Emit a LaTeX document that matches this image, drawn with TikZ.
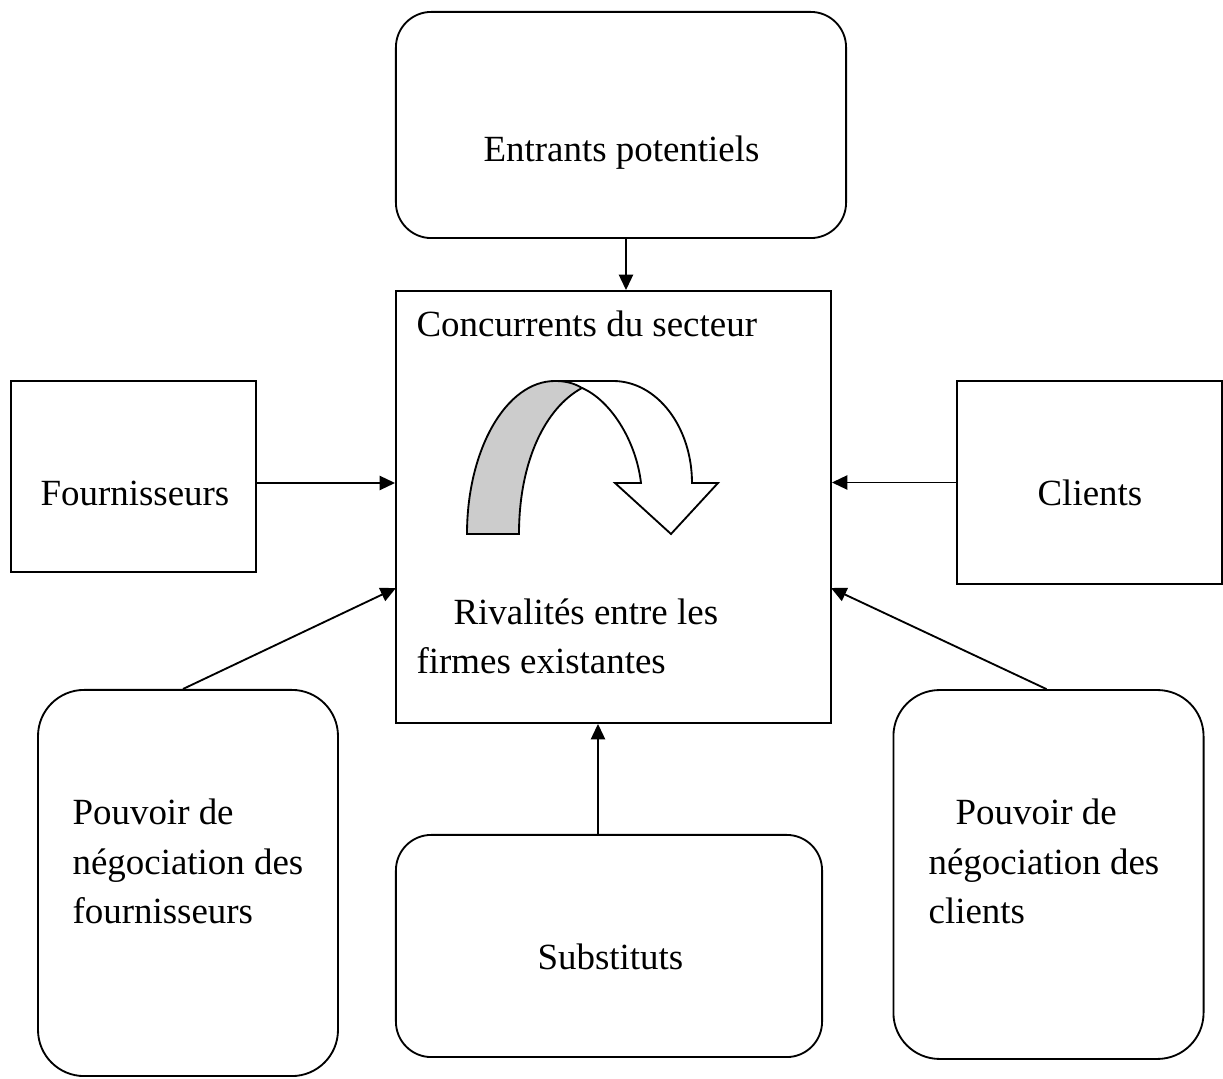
\documentclass[tikz,border=0pt]{standalone}
\usepackage{fontspec}
\setmainfont{Liberation Serif}
\usepackage{tikz}
\usepackage{xcolor}
\usetikzlibrary{shapes.geometric, positioning, arrows.meta, calc}

\tikzset{
  box/.style={draw, line width=0.6pt, inner sep=0pt},
  roundbox/.style={box, rounded corners=11.5pt},
  label/.style={inner sep=0pt, font=\fontsize{12}{16.1}\selectfont},
  force/.style={line width=0.6pt, -{Triangle[length=5pt,width=4.6pt]}}
}

\begin{document}
\begin{tikzpicture}[x=0.325pt, y=-0.325pt]
\useasboundingbox (0,0) rectangle (1223,1079);

% les cadres
\node[roundbox, minimum width=146.3pt, minimum height=73.5pt] (entrants) at (621,125) {};
\node[box, minimum width=141.4pt, minimum height=140.4pt] (concur) at (613.5,507) {};
\node[box, minimum width=79.6pt, minimum height=62.1pt] (fourn) at (133.5,476.5) {};
\node[box, minimum width=86.1pt, minimum height=66pt] (clients) at (1089.5,482.5) {};
\node[roundbox, rounded corners=15pt, minimum width=97.5pt, minimum height=125.5pt] (pfourn) at (188,883) {};
\node[roundbox, rounded corners=15pt, minimum width=100.8pt, minimum height=119.9pt] (pclients) at (1048.5,874.5) {};
\node[roundbox, minimum width=138.5pt, minimum height=72.2pt] (subst) at (609,946) {};

% les textes (base = derniere ligne)
\node[label, anchor=base west] (t-entrants) at (483,162) {Entrants potentiels};
\node[label, anchor=base west] (t-concur) at (416,337) {Concurrents du secteur};
\node[label, anchor=base west, align=left] (t-rival) at (416,674) {\hspace*{12pt}Rivalités entre les\\firmes existantes};
\node[label, anchor=base west] (t-fourn) at (40,506) {Fournisseurs};
\node[label, anchor=base west] (t-clients) at (1037,506) {Clients};
\node[label, anchor=base west, align=left] (t-pfourn) at (72,924) {Pouvoir de\\négociation des\\fournisseurs};
\node[label, anchor=base west, align=left] (t-pclients) at (928,924) {\hspace*{8.8pt}Pouvoir de\\négociation des\\clients};
\node[label, anchor=base west] (t-subst) at (537,970) {Substituts};

% la fleche courbe
\draw[line width=0.6pt, fill=white, line join=miter] (555,381) -- (613,381)
  .. controls (657,381) and (692,427) .. (692,483) -- (718,483) -- (671,534)
  -- (615,483) -- (641,483) .. controls (636,440) and (610,400) .. (582,388);
\draw[line width=0.6pt, fill=gray!40] (467,534) -- (519,534)
  .. controls (519,462) and (545,408) .. (582,388)
  .. controls (574,383) and (565,381) .. (555,381)
  .. controls (506,381) and (467,450) .. (467,534) -- cycle;

% les fleches
\coordinate (in-l) at (396,588);
\coordinate (in-r) at (831,588);
\draw[force] ($(entrants.south)+(5,0)$) -- ($(concur.north)+(12.5,0)$);
\draw[force] ($(fourn.east)+(0,6.5)$) -- ($(fourn.east -| concur.west)+(0,6.5)$);
\draw[force] (clients.west) -- (clients.west -| concur.east);
\draw[force] ($(pfourn.north)+(-5,0)$) -- (in-l);
\draw[force] ($(pclients.north)+(-2,0)$) -- (in-r);
\draw[force] ($(subst.north)+(-11,0)$) -- ($(concur.south)+(-15.5,0)$);
\end{tikzpicture}
\end{document}
